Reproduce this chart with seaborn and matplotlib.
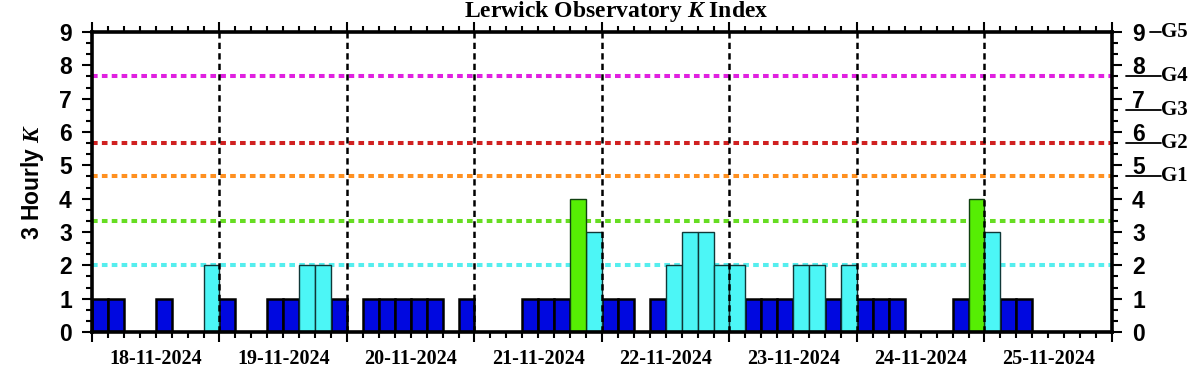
import numpy as np
import pandas as pd
import matplotlib
matplotlib.use("Agg")
import matplotlib.pyplot as plt
import matplotlib.transforms as mtransforms
from matplotlib.ticker import MultipleLocator, FixedLocator
import seaborn as sns

# ---------------- data ----------------
dates = ["18-11-2024", "19-11-2024", "20-11-2024", "21-11-2024",
         "22-11-2024", "23-11-2024", "24-11-2024", "25-11-2024"]
k_18 = [1, 1, 0, 0, 1, 0, 0, 2]
k_19 = [1, 0, 0, 1, 1, 2, 2, 1]
k_20 = [0, 1, 1, 1, 1, 1, 0, 1]
k_21 = [0, 0, 0, 1, 1, 1, 4, 3]
k_22 = [1, 1, 0, 1, 2, 3, 3, 2]
k_23 = [2, 1, 1, 1, 2, 2, 1, 2]
k_24 = [1, 1, 1, 0, 0, 0, 1, 4]
k_25 = [3, 1, 1, np.nan, np.nan, np.nan, np.nan, np.nan]
daily_k = [k_18, k_19, k_20, k_21, k_22, k_23, k_24, k_25]

threshold_levels = [2.0, 3.33, 4.67, 5.67, 7.67]
threshold_colors = ["#55eeee", "#66dd22", "#ff9020", "#d02020", "#e020e0"]

storm_levels = [4.67, 5.67, 6.67, 7.67, 9.0]
storm_labels = ["G1", "G2", "G3", "G4", "G5"]

level_names = ["quiet", "unsettled", "active"]
level_colors = {"quiet": "#0008e0", "unsettled": "#4cf6f6", "active": "#56ee04"}
level_edges = {"quiet": ("black", 1.8), "unsettled": ("#103838", 1.0), "active": ("#104010", 1.0)}

# ---------------- frame ----------------
slots_per_day = 8
rows = []
for d, vals in enumerate(daily_k):
    for s, k in enumerate(vals):
        rows.append({"slot": d * slots_per_day + s + 0.5, "K": k})
df = pd.DataFrame(rows)
df = df[df["K"] > 0].copy()
df["level"] = pd.cut(df["K"], bins=[0, 1.5, 3.5, 9.5], labels=level_names).astype(str)

# ---------------- style ----------------
sns.set_style("white")
plt.rcParams["font.family"] = ["Liberation Sans", "DejaVu Sans"]
plt.rcParams["mathtext.fontset"] = "custom"
plt.rcParams["mathtext.it"] = "Liberation Serif:italic:bold"
plt.rcParams["mathtext.rm"] = "Liberation Serif:bold"
for key in ["text.color", "axes.labelcolor", "xtick.color", "ytick.color",
            "xtick.labelcolor", "ytick.labelcolor"]:
    plt.rcParams[key] = "black"

fig = plt.figure(figsize=(12.02, 3.75), dpi=100)
ax = fig.add_axes([0.0765, 0.1147, 0.8486, 0.8])

# threshold lines (behind bars)
for lvl, col in zip(threshold_levels, threshold_colors):
    ax.axhline(lvl, color=col, lw=2.9, linestyle=(0, (1.4, 1.05)),
               dash_capstyle="butt", zorder=1)

sns.barplot(data=df, x="slot", y="K", hue="level", hue_order=level_names,
            palette=level_colors, native_scale=True, width=1, dodge=False,
            errorbar=None, legend=False, saturation=1, ax=ax, zorder=2)

rgb_to_level = {matplotlib.colors.to_hex(c): n for n, c in level_colors.items()}
for p in ax.patches:
    name = rgb_to_level.get(matplotlib.colors.to_hex(p.get_facecolor()))
    if name:
        ec, lw = level_edges[name]
        p.set_edgecolor(ec)
        p.set_linewidth(lw)

n_days = len(dates)
ax.set_xlim(0, n_days * slots_per_day)
ax.set_ylim(0, 9)

# day separators
for d in range(1, n_days):
    ax.axvline(d * slots_per_day, color="black", lw=1.8,
               linestyle=(0, (2.5, 1.7)), zorder=3)

# spines
for sp in ax.spines.values():
    sp.set_linewidth(2.6)
    sp.set_color("black")
    sp.set_zorder(5)

# x ticks
ax.xaxis.set_major_locator(FixedLocator(np.arange(0, n_days * slots_per_day + 1, slots_per_day)))
ax.xaxis.set_minor_locator(MultipleLocator(1))
ax.tick_params(axis="x", which="both", bottom=True, top=True, labelbottom=False,
               direction="out", width=1.5, color="black")
ax.tick_params(axis="x", which="major", length=7.5)
ax.tick_params(axis="x", which="minor", length=4.5)
ax.set_xlabel("")

# y ticks
ax.yaxis.set_major_locator(MultipleLocator(1))
ax.yaxis.set_minor_locator(MultipleLocator(1 / 3))
ax.tick_params(axis="y", which="both", left=True, right=True, labelleft=True,
               labelright=True, direction="out", width=1.5, color="black",
               labelcolor="black")
ax.tick_params(axis="y", which="major", length=7.5, pad=7, labelsize=16.5)
ax.tick_params(axis="y", which="minor", length=4.5)
for t in ax.yaxis.get_major_ticks():
    t.label1.set_fontweight("bold")
    t.label2.set_fontweight("bold")

ax.set_ylabel("3 Hourly $K$", fontsize=16.5, fontweight="bold", color="black")
ax.yaxis.set_label_coords(-0.045, 0.5)

# date labels
sec = ax.secondary_xaxis("bottom")
centers = np.arange(n_days) * slots_per_day + slots_per_day / 2
sec.set_xticks(centers)
sec.set_xticklabels(dates, fontfamily="Liberation Serif", fontweight="bold",
                    fontsize=14.5, color="black")
sec.tick_params(length=0, pad=12)
sec.spines["bottom"].set_visible(False)

# storm scale on the right
trans = mtransforms.blended_transform_factory(ax.transAxes, ax.transData)
for lvl, lab in zip(storm_levels, storm_labels):
    x0 = 1.037 if lab == "G5" else 1.0137
    ax.plot([x0, 1.048], [lvl, lvl], transform=trans, clip_on=False,
            color="black", lw=1.3)
    ax.text(1.048, lvl, lab, transform=trans, ha="left", va="center",
            fontfamily="Liberation Serif", fontweight="bold", fontsize=15,
            color="black")

fig.text(0.5125, 0.968, "Lerwick Observatory $K$ Index", ha="center", va="center",
         fontfamily="Liberation Serif", fontweight="bold", fontsize=17, color="black")

fig.savefig("out.png", dpi=100)
